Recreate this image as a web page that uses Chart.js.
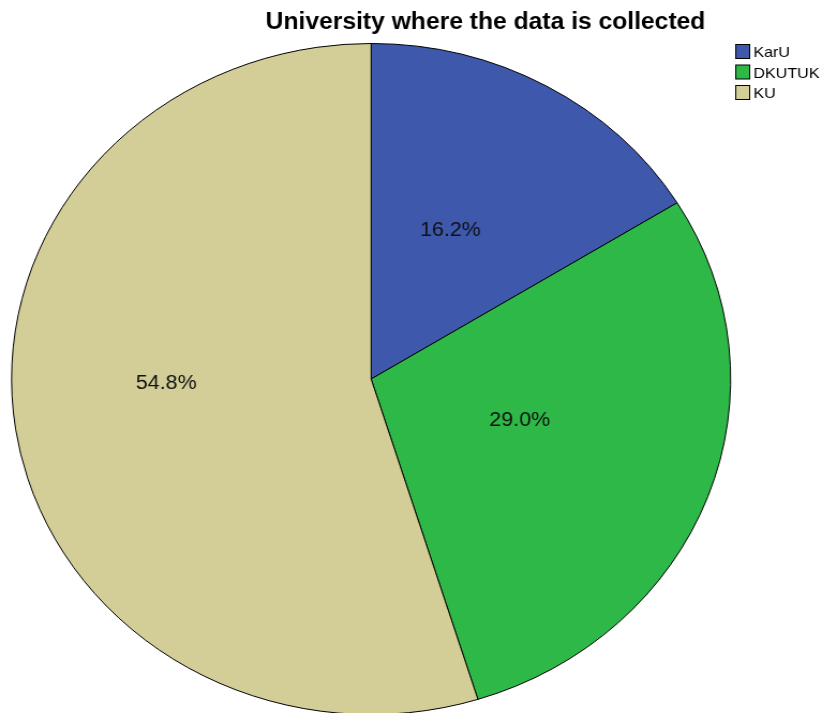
<!DOCTYPE html>
<html>
<head>
<meta charset="utf-8">
<title>University where the data is collected</title>
<script src="https://cdn.jsdelivr.net/npm/chart.js@4.4.1/dist/chart.umd.min.js"></script>
<style>
	html, body { margin: 0; padding: 0; background: #fff; overflow: hidden; }
	/* the pie is drawn round, then widened a little on screen */
	#mycanvas { display: block; transform-origin: 0 0; transform: scaleX(1.0717); }
</style>
</head>
<body>
<canvas id="mycanvas" width="767" height="760"></canvas>
<script>
var universities = ["KarU", "DKUTUK", "KU"];
var percents = [16.2, 29.0, 54.8];
var sliceColors = ["#3E58AC", "#2EB848", "#D3CE97"];
var titleText = "University where the data is collected";

// where each percent label sits inside its slice
var labelRadius = [0.5, 0.43, 0.57];
var labelNudge = [-3, -4.5, 8];

var FONT = '"Liberation Sans", Arial, sans-serif';

var pieText = {
	id: 'pieText',
	afterDraw: function(chart){
		var ctx = chart.ctx;
		var meta = chart.getDatasetMeta(0);
		ctx.save();
		ctx.textAlign = 'center';
		ctx.textBaseline = 'middle';

		// percent labels
		ctx.fillStyle = '#111';
		ctx.font = '20px ' + FONT;
		meta.data.forEach(function(arc, i){
			var p = arc.getProps(['x', 'y', 'startAngle', 'endAngle', 'outerRadius']);
			var a = (p.startAngle + p.endAngle) / 2 + labelNudge[i] * Math.PI / 180;
			var r = p.outerRadius * labelRadius[i];
			ctx.fillText(percents[i].toFixed(1) + '%', p.x + r * Math.cos(a), p.y + r * Math.sin(a) + 2);
		});

		// title
		ctx.fillStyle = '#000';
		ctx.font = 'bold 23px ' + FONT;
		ctx.fillText(titleText, 453, 23);

		// legend
		ctx.textAlign = 'left';
		ctx.font = '15px ' + FONT;
		ctx.lineWidth = 1;
		ctx.strokeStyle = '#000';
		for(var i in universities){
			var top = 44.5 + i * 20.5;
			ctx.fillStyle = sliceColors[i];
			ctx.fillRect(686.5, top, 13, 14);
			ctx.strokeRect(686.5, top, 13, 14);
			ctx.fillStyle = '#000';
			ctx.fillText(universities[i], 703, top + 8.5);
		}
		ctx.restore();
	}
};

var chartdata = {
	labels: universities,
	datasets: [
		{
			label: "University",
			backgroundColor: sliceColors,
			borderColor: "#000",
			borderWidth: 1,
			hoverOffset: 0,
			data: percents
		}
	]
};

var ctx = document.getElementById("mycanvas");

var pieChart = new Chart(ctx, {
	type: 'pie',
	data: chartdata,
	options: {
		responsive: false,
		animation: false,
		events: [],
		layout: {
			padding: { left: 10.3, right: 84.7, top: 43, bottom: 45 }
		},
		plugins: {
			legend: { display: false },
			title: { display: false },
			tooltip: { enabled: false }
		}
	},
	plugins: [pieText]
});
</script>
</body>
</html>
